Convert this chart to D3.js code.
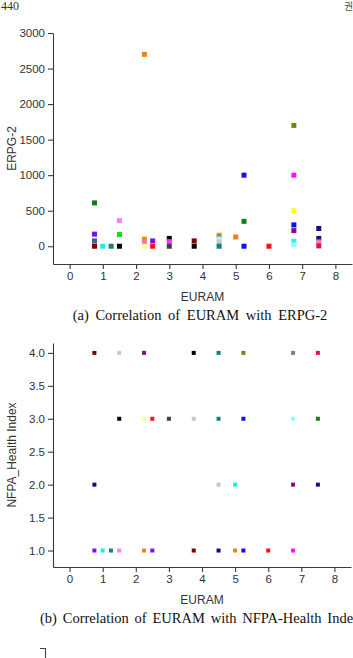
<!DOCTYPE html>
<html>
<head>
<meta charset="utf-8">
<script src="https://cdn.jsdelivr.net/npm/d3@7"></script>
<style>
  body { margin: 0; background: #fff; }
  svg { display: block; }
</style>
</head>
<body>
<div id="canvas"></div>
<script>
"use strict";

/* === Panel (a): EURAM vs ERPG-2 === */
let euramA = [0.75, 0.75, 0.75, 0.75, 1.0, 1.25, 1.5, 1.5, 1.5,
  2.25, 2.25, 2.25, 2.25, 2.5, 2.5, 3, 3, 3, 3.75, 3.75,
  4.5, 4.5, 4.5, 4.5, 4.5, 5.0, 5.25, 5.25, 5.25, 6.0,
  6.75, 6.75, 6.75, 6.75, 6.75, 6.75, 6.75, 7.5, 7.5, 7.5, 7.5];
let erpgA = [610, 170, 75, 0, 0, 0, 360, 165, 0,
  2700, 100, 50, 0, 75, 0, 110, 65, 0, 75, 0,
  165, 145, 100, 60, 0, 130, 1000, 350, 0, 0,
  1700, 1000, 500, 300, 220, 70, 20, 250, 110, 60, 5];
let colorA = ["#127a12", "#7a10e8", "#4a5a8c", "#800000", "#10f0f0", "#108080", "#ee88ee", "#10e010", "#000000",
  "#f08010", "#f08a20", "#ff70b0", "#ffff90", "#7a10e8", "#ff1010", "#000000", "#ff30ff", "#404040", "#800000", "#000000",
  "#f0f060", "#8a8a8a", "#c0f0f0", "#c8c8c8", "#108080", "#f08010", "#1010f0", "#108010", "#1010f0", "#ff1010",
  "#808010", "#ff10ff", "#ffff10", "#1010f0", "#801080", "#30f0f0", "#90ffff", "#101080", "#101080", "#ff80a0", "#e01060"];
let yTicksA = [0, 500, 1000, 1500, 2000, 2500, 3000];

/* === Panel (b): EURAM vs NFPA health index === */
let euramB = [0.75, 1.5, 2.25, 3.75, 4.5, 5.25, 6.75, 7.5,
  1.5, 2.25, 2.5, 3.0, 3.75, 4.5, 5.25, 6.75, 7.5,
  0.75, 4.5, 5.0, 6.75, 7.5,
  0.75, 1.0, 1.25, 1.5, 2.25, 2.5, 3.75, 4.5, 5.0, 5.25, 6.0, 6.75];
let nfpaB = [4, 4, 4, 4, 4, 4, 4, 4,
  3, 3, 3, 3, 3, 3, 3, 3, 3,
  2, 2, 2, 2, 2,
  1, 1, 1, 1, 1, 1, 1, 1, 1, 1, 1, 1];
let colorB = ["#800000", "#c8c8c8", "#801080", "#000000", "#108080", "#808010", "#808080", "#e01060",
  "#000000", "#ffff90", "#ff1010", "#404040", "#c8c8c8", "#108080", "#1010f0", "#90ffff", "#108010",
  "#101080", "#c8c8c8", "#10f0f0", "#801080", "#101080",
  "#7a10e8", "#10f0f0", "#108080", "#ee88ee", "#f08010", "#7a10e8", "#800000", "#101080", "#f08010", "#1010f0", "#ff1010", "#ff10ff"];
let yTicksB = [1.0, 1.5, 2.0, 2.5, 3.0, 3.5, 4.0];

let xTicks = [0, 1, 2, 3, 4, 5, 6, 7, 8];

let svgWidth = 353;
let svgHeight = 658;
let axisColor = "#3a3a3a";
let sansFont = "'Liberation Sans', Arial, sans-serif";
let serifFont = "'Liberation Serif', 'Times New Roman', serif";

let svg = d3.select("#canvas")
  .append("svg")
  .attr("width", svgWidth)
  .attr("height", svgHeight);

/* === Page furniture === */
svg.append("text")
  .attr("x", 1).attr("y", 10)
  .attr("font-family", serifFont)
  .attr("font-size", "12px")
  .attr("fill", "#333")
  .text("440");

svg.append("text")
  .attr("x", 344).attr("y", 10)
  .attr("font-family", "'Noto Sans CJK KR', sans-serif")
  .attr("font-size", "10px")
  .attr("fill", "#555")
  .text("권");

function drawPanel(p) {
  let x = d3.scaleLinear().domain([-0.5, 8.5]).range([p.left, p.right]);
  let y = d3.scaleLinear().domain(p.yDomain).range([p.bottom, p.top]);

  // minor ticks first, then the major axis on top
  let gx = svg.append("g").attr("transform", `translate(0, ${p.bottom})`);
  gx.call(d3.axisBottom(x).tickValues(d3.range(-0.5, 8.51, 0.5)).tickSize(2.5).tickFormat(""));
  gx.call(d3.axisBottom(x).tickValues(xTicks).tickSize(5).tickSizeOuter(0).tickPadding(3));

  let gy = svg.append("g").attr("transform", `translate(${p.left}, 0)`);
  gy.call(d3.axisLeft(y).tickValues(p.yMinor).tickSize(2.5).tickFormat(""));
  gy.call(d3.axisLeft(y).tickValues(p.yTicks).tickSize(5).tickSizeOuter(0).tickPadding(3).tickFormat(p.yFormat));

  [gx, gy].forEach(g => {
    g.selectAll("path, line").attr("stroke", axisColor).attr("stroke-width", 1.1);
    g.selectAll("text")
      .attr("font-family", sansFont)
      .attr("font-size", "11.5px")
      .attr("fill", "#333");
  });

  svg.append("g")
    .selectAll("rect")
    .data(p.xs.map((v, i) => ({ x: v, y: p.ys[i], c: p.colors[i] })))
    .enter()
    .append("rect")
    .attr("x", d => x(d.x) - p.size / 2)
    .attr("y", d => y(d.y) - p.size / 2)
    .attr("width", p.size)
    .attr("height", p.size)
    .attr("fill", d => d.c);

  svg.append("text")
    .attr("x", (p.left + p.right) / 2)
    .attr("y", p.bottom + 37)
    .attr("text-anchor", "middle")
    .attr("font-family", sansFont)
    .attr("font-size", "12px")
    .attr("fill", "#333")
    .text("EURAM");

  svg.append("text")
    .attr("transform", `translate(16, ${(p.top + p.bottom) / 2}) rotate(-90)`)
    .attr("text-anchor", "middle")
    .attr("font-family", sansFont)
    .attr("font-size", "12px")
    .attr("fill", "#333")
    .text(p.yLabel);

  svg.append("text")
    .attr("x", p.capX)
    .attr("y", p.bottom + 56)
    .attr("text-anchor", p.capAnchor)
    .attr("font-family", serifFont)
    .attr("font-size", "14.5px")
    .attr("word-spacing", p.capSpacing)
    .attr("fill", "#111")
    .text(p.caption);
}

drawPanel({
  left: 53, right: 352, top: 33, bottom: 264,
  yDomain: [-250, 3000],
  yTicks: yTicksA,
  yMinor: d3.range(-250, 3001, 250),
  yFormat: d3.format("d"),
  xs: euramA, ys: erpgA, colors: colorA, size: 5,
  yLabel: "ERPG-2",
  caption: "(a) Correlation of EURAM with ERPG-2",
  capX: 200, capAnchor: "middle", capSpacing: "3px"
});

drawPanel({
  left: 53, right: 351, top: 343, bottom: 567,
  yDomain: [0.75, 4.15],
  yTicks: yTicksB,
  yMinor: d3.range(0.75, 4.16, 0.25),
  yFormat: d3.format(".1f"),
  xs: euramB, ys: nfpaB, colors: colorB, size: 4,
  yLabel: "NFPA_Health Index",
  caption: "(b) Correlation of EURAM with NFPA-Health Index",
  capX: 40, capAnchor: "start", capSpacing: "2.2px"
});

/* top of the next figure's axis, peeking in at the bottom edge */
svg.append("path")
  .attr("d", "M40,648.5H45.5V658")
  .attr("fill", "none")
  .attr("stroke", "#444")
  .attr("stroke-width", 1.1);
</script>
</body>
</html>
